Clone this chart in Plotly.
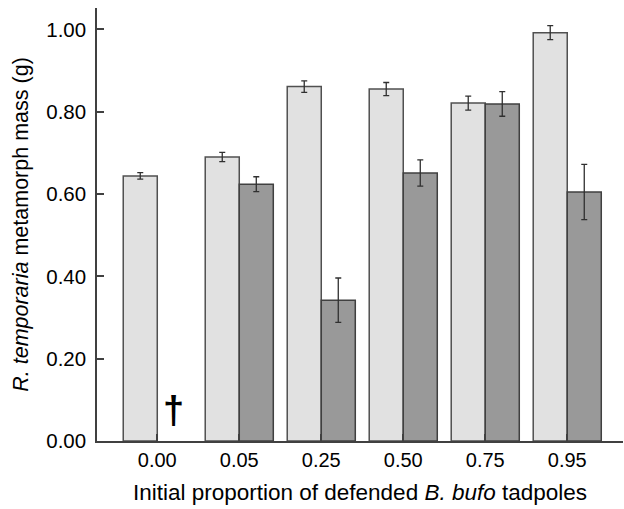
import plotly.graph_objects as go

categories = ["0.00", "0.05", "0.25", "0.50", "0.75", "0.95"]
light_vals = [0.644, 0.690, 0.861, 0.855, 0.821, 0.992]
light_err = [0.008, 0.011, 0.014, 0.016, 0.017, 0.017]
dark_vals = [None, 0.624, 0.342, 0.651, 0.819, 0.605]
dark_err = [None, 0.018, 0.054, 0.032, 0.030, 0.067]

xpos = list(range(len(categories)))
font = "Liberation Sans, Arial, sans-serif"

fig = go.Figure()
fig.add_trace(go.Bar(
    x=xpos, y=light_vals, marker=dict(color="#e1e1e1", line=dict(color="#505050", width=1.5)),
    error_y=dict(type="data", array=light_err, color="#303030", thickness=1.3, width=3),
    offsetgroup="a"))
fig.add_trace(go.Bar(
    x=xpos, y=dark_vals, marker=dict(color="#999999", line=dict(color="#404040", width=1.5)),
    error_y=dict(type="data", array=dark_err, color="#303030", thickness=1.3, width=3),
    offsetgroup="b"))

fig.add_annotation(x=0.2, y=0.075, text="<b>†</b>", showarrow=False,
                   font=dict(size=38, color="black", family=font), xref="x", yref="y")

fig.update_layout(
    width=624, height=509,
    margin=dict(l=97, r=1, t=8, b=68),
    paper_bgcolor="white", plot_bgcolor="white",
    barmode="group", bargap=0.17, bargroupgap=0,
    showlegend=False,
    font=dict(family=font, size=20, color="black"),
    xaxis=dict(range=[-0.735, 5.68], tickvals=xpos, ticktext=categories,
               showline=True, linecolor="#404040", linewidth=1.5,
               ticks="inside", ticklen=7, tickcolor="#404040", tickwidth=1.5,
               showgrid=False, zeroline=False,
               title=dict(text="Initial proportion of defended <i>B. bufo</i> tadpoles",
                          font=dict(size=22.5), standoff=14),
               tickfont=dict(size=20)),
    yaxis=dict(range=[0, 1.052], tickvals=[0, 0.2, 0.4, 0.6, 0.8, 1.0],
               ticktext=["0.00", "0.20", "0.40", "0.60", "0.80", "1.00"],
               showline=True, linecolor="#404040", linewidth=1.5,
               ticks="inside", ticklen=7, tickcolor="#404040", tickwidth=1.5,
               ticklabelstandoff=5,
               showgrid=False, zeroline=False,
               title=dict(text="<i>R. temporaria</i> metamorph mass (g)",
                          font=dict(size=21.5), standoff=12),
               tickfont=dict(size=20.5)),
)

fig.write_html("out.html", config={"displayModeBar": False},
               post_script="document.body.style.margin='0';")
